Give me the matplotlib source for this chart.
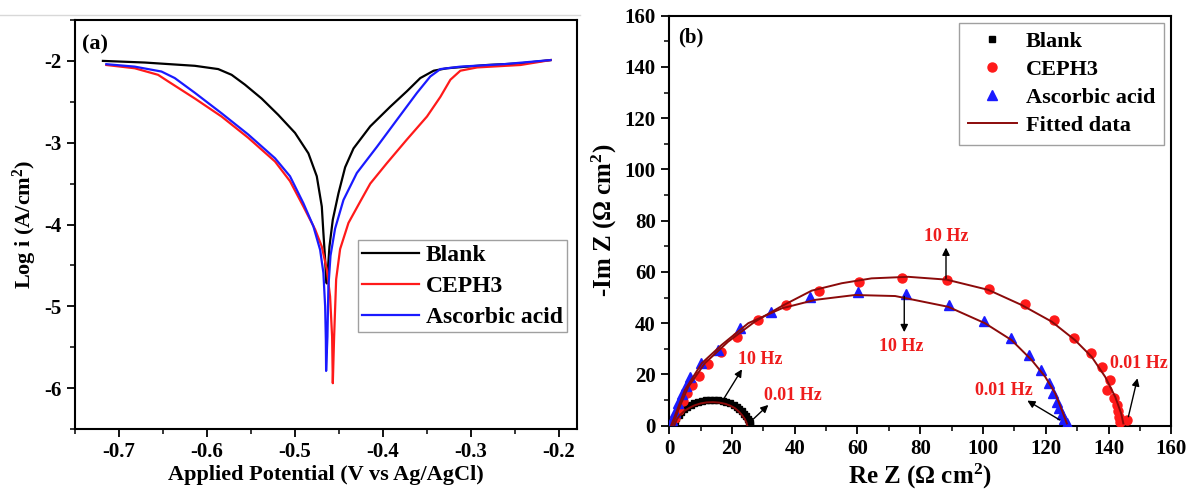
import matplotlib
matplotlib.use("Agg")
import matplotlib.pyplot as plt
from matplotlib.ticker import MultipleLocator
from matplotlib.lines import Line2D

plt.rcParams['font.family'] = ['Liberation Serif', 'DejaVu Serif']
plt.rcParams['font.weight'] = 'bold'
plt.rcParams['axes.labelweight'] = 'bold'
plt.rcParams['mathtext.fontset'] = 'custom'
plt.rcParams['mathtext.rm'] = 'Liberation Serif:bold'
plt.rcParams['mathtext.it'] = 'Liberation Serif:bold:italic'
plt.rcParams['mathtext.bf'] = 'Liberation Serif:bold'

# ---- (a) Tafel data: potential (V vs Ag/AgCl), log i (A/cm2) ----
blank_E = [-0.7179, -0.6704, -0.6135, -0.587, -0.5718, -0.5567, -0.5377, -0.5188,
           -0.4998, -0.4846, -0.4751, -0.4694, -0.4676, -0.4656, -0.4645, -0.4638,
           -0.463, -0.4607, -0.4569, -0.4505, -0.4429, -0.4334, -0.4144, -0.3917,
           -0.3727, -0.3576, -0.3424, -0.3272, -0.2817, -0.2438, -0.2097]
blank_logi = [-2.00, -2.02, -2.06, -2.10, -2.17, -2.29, -2.46, -2.66,
              -2.88, -3.13, -3.41, -3.78, -4.10, -4.43, -4.67, -4.72,
              -4.63, -4.27, -3.94, -3.62, -3.30, -3.07, -2.80, -2.56,
              -2.37, -2.21, -2.12, -2.09, -2.05, -2.03, -1.99]

ceph_E = [-0.714, -0.6818, -0.6553, -0.6439, -0.6135, -0.5832, -0.5529, -0.5225,
          -0.5055, -0.4903, -0.477, -0.4694, -0.4637, -0.46, -0.4577, -0.4569,
          -0.4554, -0.4531, -0.4486, -0.4391, -0.4258, -0.4144, -0.3955, -0.3727,
          -0.35, -0.3348, -0.3234, -0.3121, -0.2931, -0.2438, -0.2097]
ceph_logi = [-2.05, -2.09, -2.17, -2.25, -2.46, -2.68, -2.94, -3.23,
             -3.47, -3.78, -4.06, -4.27, -4.55, -4.88, -5.37, -5.94,
             -5.37, -4.67, -4.30, -3.98, -3.72, -3.50, -3.25, -2.96,
             -2.68, -2.44, -2.23, -2.12, -2.08, -2.05, -1.99]

asc_E = [-0.714, -0.6818, -0.6514, -0.6363, -0.6135, -0.5832, -0.5529, -0.5225,
         -0.5055, -0.4903, -0.479, -0.4713, -0.4676, -0.4656, -0.4648, -0.4645,
         -0.463, -0.4619, -0.4595, -0.4543, -0.4448, -0.4296, -0.4068, -0.3841,
         -0.3613, -0.3462, -0.3348, -0.3121, -0.2628, -0.2097]
asc_logi = [-2.04, -2.07, -2.13, -2.21, -2.39, -2.64, -2.90, -3.19,
            -3.41, -3.74, -4.02, -4.31, -4.59, -5.00, -5.41, -5.79,
            -5.37, -4.76, -4.38, -4.05, -3.70, -3.37, -3.05, -2.72,
            -2.39, -2.19, -2.10, -2.07, -2.04, -1.99]

# ---- (b) Nyquist data: Re Z, -Im Z (ohm cm2) ----
blank_re = [1.5, 1.8, 2.3, 3.0, 3.8, 4.7, 5.7, 6.8, 8.0, 9.2, 10.5, 11.8, 13.1, 14.4,
            15.7, 17.0, 18.2, 19.4, 20.5, 21.5, 22.4, 23.2, 23.9, 24.5, 25.0, 25.4, 25.7, 25.9]
blank_im = [0.5, 1.8, 3.1, 4.3, 5.4, 6.4, 7.3, 8.0, 8.7, 9.2, 9.6, 9.9, 10.0, 10.0,
            9.9, 9.6, 9.2, 8.7, 8.0, 7.3, 6.5, 5.6, 4.6, 3.6, 2.6, 1.7, 0.9, 0.3]

ceph_re = [1.8, 3.1, 4.5, 5.8, 7.4, 9.5, 12.5, 16.4, 21.7, 28.4, 37.1, 47.7, 60.5, 74.1,
           88.4, 101.9, 113.4, 122.7, 129.1, 134.4, 137.8, 140.5, 139.4, 141.8, 142.6,
           143.1, 143.3, 143.7, 145.8]
ceph_im = [2.9, 6.1, 9.8, 12.6, 15.9, 19.5, 24.1, 28.9, 34.7, 41.2, 47.1, 52.6, 56.2, 57.5,
           56.9, 53.3, 47.5, 41.2, 34.3, 28.2, 23.0, 17.8, 13.9, 10.7, 8.1,
           5.9, 3.5, 1.6, 2.2]

asc_re = [0.8, 1.8, 2.9, 4.2, 5.3, 6.6, 10.1, 15.5, 22.6, 32.3, 44.9, 60.3, 75.4,
          89.2, 100.3, 108.9, 114.8, 118.5, 121.0, 122.4, 123.5, 124.3, 125.1, 125.8, 126.7]
asc_im = [2.2, 5.5, 8.7, 12.4, 15.5, 19.1, 24.4, 29.5, 38.0, 44.5, 50.1, 52.3, 51.4,
          47.1, 41.0, 34.1, 27.6, 21.7, 16.8, 12.6, 9.4, 6.8, 4.6, 2.5, 0.9]

# fitted curves
fit_blank_re = [1.6, 2.5, 3.5, 5, 6.5, 8, 10, 12, 14, 16, 18, 19.5, 21, 22.3, 23.3, 24.1, 24.6, 24.9]
fit_blank_im = [0, 2.6, 4.2, 5.9, 7.0, 7.9, 8.7, 9.1, 9.2, 9.0, 8.5, 7.8, 6.8, 5.4, 4.0, 2.6, 1.3, 0]

fit_ceph_re = [0.8, 1.3, 3.2, 6.1, 11.4, 18.8, 27.3, 35.9, 45.4, 55.0, 64.5, 76.2, 88.4,
               101.7, 112.3, 121.9, 129.3, 134.6, 138.9, 142.1, 144.0, 144.7]
fit_ceph_im = [0, 0.9, 7.0, 15.2, 24.4, 32.8, 40.6, 46.7, 52.7, 55.6, 57.5, 58.1, 57.0,
               53.0, 47.1, 40.6, 33.4, 26.9, 19.1, 11.3, 4.8, 0.9]

fit_asc_re = [0.6, 1.3, 5.0, 10.4, 16.7, 25.2, 35.9, 46.5, 59.2, 72.0, 88.9, 100.6,
              109.1, 115.5, 119.8, 123.0, 125.1, 126.7]
fit_asc_im = [0, 2.2, 13.9, 24.4, 31.5, 40.0, 45.8, 49.1, 51.0, 50.6, 46.4, 40.0,
              33.4, 25.6, 19.1, 12.6, 6.1, 0.9]

# frequency annotations: (text, text position, arrow tail, arrow head)
freq_notes = [
    ("10 Hz", (88.2, 74.0), (88.2, 57.5), (88.2, 69.5)),
    ("10 Hz", (74.0, 31.1), (74.9, 50.5), (74.9, 36.5)),
    ("10 Hz", (28.9, 26.0), (17.5, 10.7), (23.2, 22.0)),
    ("0.01 Hz", (39.5, 11.7), (26.3, 2.0), (31.6, 8.1)),
    ("0.01 Hz", (106.5, 13.9), (124.5, 2.2), (114.1, 9.8)),
    ("0.01 Hz", (149.5, 24.4), (146.3, 3.5), (149.2, 18.5)),
]

fig = plt.figure(figsize=(11.96, 4.95), dpi=100)
fig.add_artist(Line2D([0, 0.485], [1 - 15 / 495, 1 - 15 / 495], color='#d8d8d8', lw=1))

ax1 = fig.add_axes([0.0624, 0.1333, 0.4198, 0.8263])
ax2 = fig.add_axes([0.5595, 0.1400, 0.4199, 0.8283])

# panel (a)
ax1.plot(blank_E, blank_logi, color='black', lw=1.6, label='Blank')
ax1.plot(ceph_E, ceph_logi, color='#ff1a1a', lw=1.6, label='CEPH3')
ax1.plot(asc_E, asc_logi, color='#1a1aff', lw=1.6, label='Ascorbic acid')
ax1.set_xlim(-0.75, -0.18)
ax1.set_ylim(-6.5, -1.5)
ax1.xaxis.set_minor_locator(MultipleLocator(0.05))
ax1.yaxis.set_minor_locator(MultipleLocator(0.5))
ax1.set_xticks([-0.7, -0.6, -0.5, -0.4, -0.3, -0.2])
ax1.set_xticklabels(['-0.7', '-0.6', '-0.5', '-0.4', '-0.3', '-0.2'])
ax1.set_yticks([-6, -5, -4, -3, -2])
ax1.set_yticklabels(['-6', '-5', '-4', '-3', '-2'])
ax1.set_xlabel('Applied Potential (V vs Ag/AgCl)', fontsize=16, labelpad=2)
ax1.set_ylabel(r'Log i (A/cm$^{2}$)', fontsize=16, labelpad=4)
ax1.text(0.015, 0.94, '(a)', transform=ax1.transAxes, fontsize=16, va='center')
leg1 = ax1.legend(loc='upper right', bbox_to_anchor=(0.981, 0.462), borderaxespad=0,
                  fontsize=17, frameon=True, fancybox=False, edgecolor='#888888',
                  handlelength=2.4, handletextpad=0.3, labelspacing=0.4,
                  borderpad=0.18)
leg1.get_frame().set_linewidth(1.0)

# panel (b)
ax2.plot(blank_re, blank_im, 's', color='black', ms=4.5, label='Blank', zorder=3)
ax2.plot(ceph_re, ceph_im, 'o', color='#ff1a1a', ms=6.5, label='CEPH3', zorder=3)
ax2.plot(asc_re, asc_im, '^', color='#1a1aff', ms=6.5, label='Ascorbic acid', zorder=3)
ax2.plot(fit_blank_re, fit_blank_im, '-', color='#8b0a0a', lw=1.4, zorder=4)
ax2.plot(fit_ceph_re, fit_ceph_im, '-', color='#8b0a0a', lw=1.4, zorder=4)
ax2.plot(fit_asc_re, fit_asc_im, '-', color='#8b0a0a', lw=1.4, zorder=4, label='Fitted data')
ax2.set_xlim(0, 160)
ax2.set_ylim(0, 160)
ax2.xaxis.set_major_locator(MultipleLocator(20))
ax2.xaxis.set_minor_locator(MultipleLocator(10))
ax2.yaxis.set_major_locator(MultipleLocator(20))
ax2.yaxis.set_minor_locator(MultipleLocator(10))
ax2.set_xlabel('Re Z (Ω cm$^{2}$)', fontsize=18, labelpad=2)
ax2.set_ylabel('-Im Z (Ω cm$^{2}$)', fontsize=18, labelpad=4)
ax2.text(0.018, 0.946, '(b)', transform=ax2.transAxes, fontsize=15, va='center')
for txt, pos, tail, head in freq_notes:
    ax2.annotate('', xy=head, xytext=tail,
                 arrowprops=dict(arrowstyle='-|>', color='black', lw=1.0, mutation_scale=11,
                                 shrinkA=0, shrinkB=0), zorder=5)
    ax2.text(pos[0], pos[1], txt, color='#ee1c1c', fontsize=13, fontweight='bold',
             ha='center', va='center')
leg2 = ax2.legend(loc='upper right', bbox_to_anchor=(0.9855, 0.983), borderaxespad=0,
                  fontsize=16, frameon=True, fancybox=False, edgecolor='#888888',
                  handlelength=2.2, handletextpad=0.4, labelspacing=0.33,
                  borderpad=0.4)
leg2.get_frame().set_linewidth(1.0)

for ax in (ax1, ax2):
    for sp in ax.spines.values():
        sp.set_linewidth(1.5)
    ax.tick_params(which='major', direction='out', length=6, width=1.3, labelsize=15,
                   top=False, right=False)
    ax.tick_params(which='minor', direction='out', length=3.5, width=1.1,
                   top=False, right=False)
    for lbl in ax.get_xticklabels() + ax.get_yticklabels():
        lbl.set_fontweight('bold')

fig.savefig('out.png', dpi=100)
